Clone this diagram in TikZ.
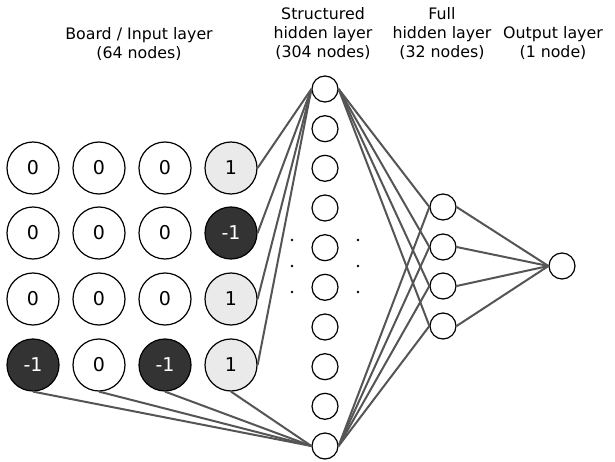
\documentclass[tikz,border=0pt]{standalone}
\usepackage{fontspec}
\setmainfont{DejaVu Sans}
\usepackage{tikz}
\usetikzlibrary{shapes}

\definecolor{lightcell}{HTML}{EAEAEA}
\definecolor{darkcell}{HTML}{333333}
\definecolor{wire}{HTML}{555555}

\begin{document}
\begin{tikzpicture}[x=1pt, y=-1pt, link/.style={line width=2pt, draw=wire}, every node/.style={circle, draw=black, line width=1.2pt, inner sep=0pt}]
\tikzset{board/.style={minimum size=52pt, font=\fontsize{19}{22}\selectfont},
  light/.style={board, fill=lightcell},
  dark/.style={board, fill=darkcell, text=white},
  unit/.style={minimum size=26pt},
  caption/.style={draw=none, rectangle, align=center, font=\fontsize{15.8}{19}\selectfont}}
\useasboundingbox (0,0) rectangle (615,462);

\node[caption] (l1) at (139,44) {Board / Input layer\\(64 nodes)};
\node[caption] (l2) at (323,34) {Structured\\hidden layer\\(304 nodes)};
\node[caption] (l3) at (442,34) {Full\\hidden layer\\(32 nodes)};
\node[caption] (l4) at (553,43) {Output layer\\(1 node)};

\node[board] (b11) at (33,168) {0};
\node[board] (b12) at (99,168) {0};
\node[board] (b13) at (165,168) {0};
\node[light] (b14) at (231,168) {1};
\node[board] (b21) at (33,233) {0};
\node[board] (b22) at (99,233) {0};
\node[board] (b23) at (165,233) {0};
\node[dark] (b24) at (231,233) {-1};
\node[board] (b31) at (33,299) {0};
\node[board] (b32) at (99,299) {0};
\node[board] (b33) at (165,299) {0};
\node[light] (b34) at (231,299) {1};
\node[dark] (b41) at (33,365) {-1};
\node[board] (b42) at (99,365) {0};
\node[dark] (b43) at (165,365) {-1};
\node[light] (b44) at (231,365) {1};

\node[unit] (h1) at (325,89) {};
\node[unit] (h2) at (325,128.7) {};
\node[unit] (h3) at (325,168.3) {};
\node[unit] (h4) at (325,208) {};
\node[unit] (h5) at (325,247.7) {};
\node[unit] (h6) at (325,287.3) {};
\node[unit] (h7) at (325,327) {};
\node[unit] (h8) at (325,366.7) {};
\node[unit] (h9) at (325,406.3) {};
\node[unit] (h10) at (325,446) {};

\node[unit] (f1) at (443,207) {};
\node[unit] (f2) at (443,247) {};
\node[unit] (f3) at (443,286) {};
\node[unit] (f4) at (443,326) {};

\node[unit] (o1) at (562,266) {};

\fill (292,240) circle (1.3) (292,266) circle (1.3) (292,292) circle (1.3);
\fill (358,240) circle (1.3) (358,266) circle (1.3) (358,292) circle (1.3);

\draw[link] (b14.east) -- (h1.west);
\draw[link] (b24.east) -- (h1.west);
\draw[link] (b34.east) -- (h1.west);
\draw[link] (b44.east) -- (h1.west);
\draw[link] (b41.south) -- (h10.west);
\draw[link] (b42.south) -- (h10.west);
\draw[link] (b43.south) -- (h10.west);
\draw[link] (b44.south) -- (h10.west);
\draw[link] (h1.east) -- (f1.west);
\draw[link] (h1.east) -- (f2.west);
\draw[link] (h1.east) -- (f3.west);
\draw[link] (h1.east) -- (f4.west);
\draw[link] (h10.east) -- (f1.west);
\draw[link] (h10.east) -- (f2.west);
\draw[link] (h10.east) -- (f3.west);
\draw[link] (h10.east) -- (f4.west);
\draw[link] (f1.east) -- (o1.west);
\draw[link] (f2.east) -- (o1.west);
\draw[link] (f3.east) -- (o1.west);
\draw[link] (f4.east) -- (o1.west);
\end{tikzpicture}
\end{document}
